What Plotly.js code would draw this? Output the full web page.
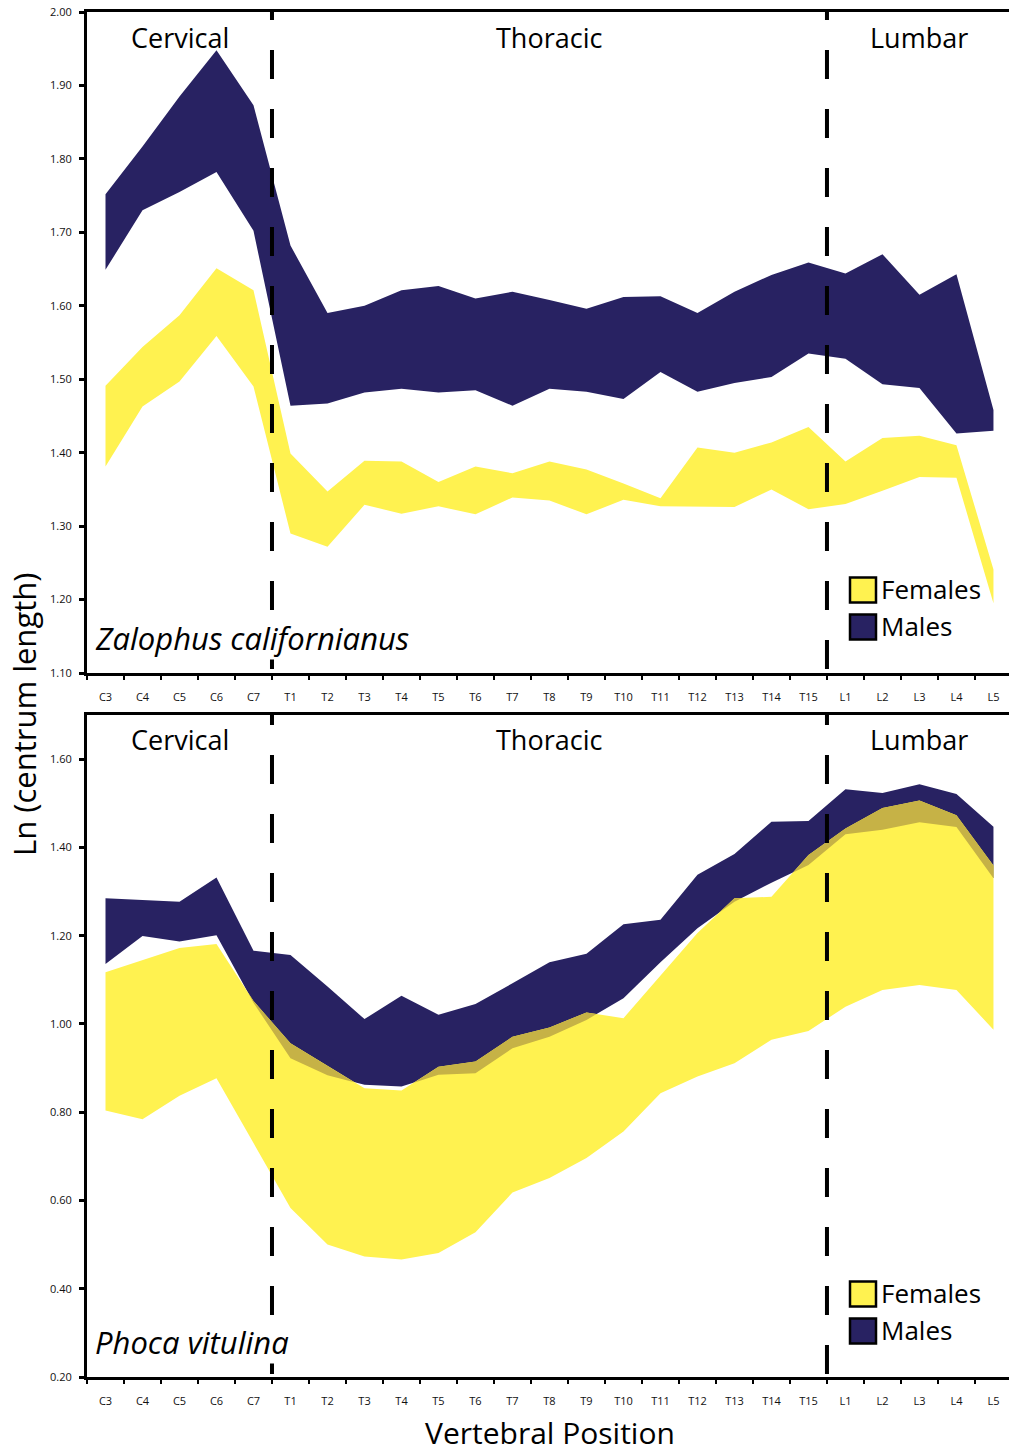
<!DOCTYPE html>
<html>
<head>
<meta charset="utf-8">
<script src="https://cdn.plot.ly/plotly-3.0.1.min.js"></script>
<style>html,body{margin:0;padding:0;background:#fff;}#chart{width:1009px;height:1454px;}</style>
</head>
<body>
<div id="chart"></div>
<script>
// ---------- DATA ----------
const vertebrae = ['C3','C4','C5','C6','C7','T1','T2','T3','T4','T5','T6','T7','T8','T9','T10','T11','T12','T13','T14','T15','L1','L2','L3','L4','L5'];
const sectionNames = {C: 'Cervical', T: 'Thoracic', L: 'Lumbar'};

// Zalophus californianus (top panel)
const zalMaleUpper   = [1.752,1.817,1.885,1.948,1.873,1.682,1.590,1.600,1.621,1.627,1.610,1.619,1.608,1.596,1.612,1.613,1.590,1.619,1.642,1.659,1.644,1.670,1.615,1.643,1.458];
const zalMaleLower   = [1.649,1.730,1.755,1.782,1.702,1.464,1.467,1.482,1.487,1.482,1.485,1.464,1.487,1.483,1.473,1.510,1.483,1.495,1.503,1.535,1.528,1.493,1.488,1.426,1.430];
const zalFemaleUpper = [1.491,1.544,1.587,1.651,1.621,1.399,1.347,1.389,1.388,1.360,1.381,1.372,1.388,1.377,1.358,1.338,1.407,1.400,1.414,1.435,1.388,1.420,1.423,1.410,1.241];
const zalFemaleLower = [1.381,1.463,1.497,1.559,1.490,1.290,1.272,1.329,1.317,1.327,1.316,1.339,1.335,1.316,1.336,1.327,1.327,1.326,1.350,1.323,1.330,1.348,1.367,1.366,1.195];

// Phoca vitulina (bottom panel)
const phoMaleUpper   = [1.285,1.281,1.277,1.332,1.166,1.156,1.085,1.011,1.064,1.021,1.045,1.092,1.140,1.159,1.226,1.236,1.338,1.385,1.458,1.460,1.532,1.523,1.543,1.521,1.447];
const phoMaleLower   = [1.136,1.199,1.187,1.201,1.048,0.922,0.884,0.862,0.858,0.885,0.888,0.945,0.971,1.009,1.058,1.140,1.217,1.277,1.320,1.360,1.430,1.440,1.457,1.446,1.330];
const phoFemaleUpper = [1.117,1.145,1.172,1.181,1.052,0.956,0.905,0.854,0.849,0.903,0.915,0.971,0.992,1.026,1.013,1.110,1.206,1.285,1.288,1.383,1.443,1.489,1.506,1.473,1.359];
const phoFemaleLower = [0.804,0.784,0.837,0.877,0.730,0.583,0.500,0.473,0.466,0.481,0.528,0.618,0.651,0.696,0.756,0.843,0.881,0.911,0.964,0.984,1.039,1.077,1.088,1.077,0.987];

const panels = [
  {species: 'Zalophus californianus', mU: zalMaleUpper, mL: zalMaleLower, fU: zalFemaleUpper, fL: zalFemaleLower,
   yRange: [1.10, 2.00], dtick: 0.1, dashPhasePx: 21},
  {species: 'Phoca vitulina', mU: phoMaleUpper, mL: phoMaleLower, fU: phoFemaleUpper, fL: phoFemaleLower,
   yRange: [0.20, 1.70], dtick: 0.2, dashPhasePx: 19}
];

// ---------- STYLE ----------
const NAVY = '#282262', YELLOW = '#FFF250', OLIVE = '#C6B246';
const FONT = '"Open Sans", "Noto Sans", sans-serif';
const W = 1009, H = 1454;
const M = {l: 87, r: 0, t: 12, b: 77};
const plotH = H - M.t - M.b;           // 1365
const panelPx = [[12, 673], [715, 1377]]; // top/bottom pixel rows of each panel

const idx = vertebrae.map((_, i) => i);
const boundaries = [-0.5].concat(idx.map(i => i + 0.5));
// section boundaries and centers derived from label prefixes
const sectionKeys = vertebrae.map(v => v[0]);
const sectionBreaks = [];
for (let i = 1; i < sectionKeys.length; i++) if (sectionKeys[i] !== sectionKeys[i-1]) sectionBreaks.push(i - 0.5);
const sections = [];
sectionKeys.forEach((k, i) => {
  const s = sections.find(o => o.k === k);
  if (s) s.last = i; else sections.push({k, first: i, last: i});
});

function band(x, upper, lower, color, xa, ya) {
  return {type: 'scatter', mode: 'lines', x: x.concat(x.slice().reverse()),
    y: upper.concat(lower.slice().reverse()), fill: 'toself', fillcolor: color,
    line: {width: 0, color: color}, hoverinfo: 'skip', showlegend: false, xaxis: xa, yaxis: ya};
}

// overlap polygons where female upper rises above male lower
function overlapTraces(fU, mL, xa, ya) {
  const out = [];
  let cur = null;
  const d = fU.map((v, i) => v - mL[i]);
  for (let i = 0; i < d.length; i++) {
    if (d[i] > 0) {
      if (!cur) {
        cur = {x: [], top: [], bot: []};
        if (i > 0) {
          const t = d[i-1] / (d[i-1] - d[i]);
          const yc = fU[i-1] + t * (fU[i] - fU[i-1]);
          cur.x.push(i - 1 + t); cur.top.push(yc); cur.bot.push(yc);
        }
      }
      cur.x.push(i); cur.top.push(fU[i]); cur.bot.push(mL[i]);
    } else if (cur) {
      const t = d[i-1] / (d[i-1] - d[i]);
      const yc = fU[i-1] + t * (fU[i] - fU[i-1]);
      cur.x.push(i - 1 + t); cur.top.push(yc); cur.bot.push(yc);
      out.push(band(cur.x, cur.top, cur.bot, OLIVE, xa, ya));
      cur = null;
    }
  }
  if (cur) out.push(band(cur.x, cur.top, cur.bot, OLIVE, xa, ya));
  return out;
}

const traces = [];
const layout = {
  width: W, height: H, margin: M, paper_bgcolor: '#fff', plot_bgcolor: '#fff',
  showlegend: false, font: {family: FONT, color: '#000'},
  annotations: [], shapes: []
};

panels.forEach((p, k) => {
  const xa = k === 0 ? 'x' : 'x2', ya = k === 0 ? 'y' : 'y2';
  const xName = k === 0 ? 'xaxis' : 'xaxis2', yName = k === 0 ? 'yaxis' : 'yaxis2';
  const [pTop, pBot] = panelPx[k];
  const domain = [(H - M.b - pBot) / plotH, (H - M.b - pTop) / plotH];
  const pxPerUnit = (pBot - pTop) / (p.yRange[1] - p.yRange[0]);

  traces.push(band(idx, p.mU, p.mL, NAVY, xa, ya));
  traces.push(band(idx, p.fU, p.fL, YELLOW, xa, ya));
  overlapTraces(p.fU, p.mL, xa, ya).forEach(t => traces.push(t));

  sectionBreaks.forEach(b => traces.push({
    type: 'scatter', mode: 'lines', x: [b, b],
    y: [p.yRange[1] + p.dashPhasePx / pxPerUnit, p.yRange[0]],
    line: {color: '#000', width: 4, dash: '29px,30px'}, hoverinfo: 'skip', showlegend: false,
    xaxis: xa, yaxis: ya, cliponaxis: true
  }));

  layout[xName] = {
    domain: [0, 1], anchor: ya, range: [-0.5, 24.42], tickmode: 'array', tickvals: idx, ticktext: vertebrae,
    ticks: '', showline: true, linewidth: 3, linecolor: '#000', mirror: true,
    showgrid: false, zeroline: false, tickfont: {size: 11, color: '#111', family: FONT},
    ticklabelstandoff: 12,
    minor: {tickmode: 'array', tickvals: boundaries, ticks: 'outside', ticklen: 4, tickwidth: 2, tickcolor: '#000', showgrid: false}
  };
  layout[yName] = {
    domain: domain, anchor: xa, range: p.yRange, tick0: p.yRange[0], dtick: p.dtick, tickformat: '.2f',
    ticks: 'outside', ticklen: 5, tickwidth: 3, tickcolor: '#000',
    showline: true, linewidth: 3, linecolor: '#000', showgrid: false, zeroline: false,
    tickfont: {size: 11, color: '#111', family: FONT}, ticklabelstandoff: 5
  };

  const yDom = py => (pBot - py) / (pBot - pTop);

  sections.forEach(s => layout.annotations.push({
    xref: xa, yref: ya + ' domain', x: (s.first + s.last) / 2, y: yDom(pTop + 25),
    text: sectionNames[s.k], showarrow: false, xanchor: 'center', yanchor: 'middle',
    font: {family: FONT, size: 27, color: '#000'}
  }));

  layout.annotations.push({
    xref: xa + ' domain', yref: ya + ' domain', x: (94 - M.l) / (W - M.l), y: yDom(pBot - 35),
    text: '<i>' + p.species + '</i>', showarrow: false, xanchor: 'left', yanchor: 'middle',
    bgcolor: '#fff', borderpad: 0,
    font: {family: FONT, size: 31, color: '#000'}
  });

  // legend (boxes + labels)
  const legendItems = [['Females', YELLOW, 96], ['Males', NAVY, 59]];
  legendItems.forEach(([name, col, upPx]) => {
    const cy = pBot - upPx + 13;
    layout.shapes.push({type: 'rect', xref: xa + ' domain', yref: ya + ' domain',
      x0: (850 - M.l) / (W - M.l), x1: (876 - M.l) / (W - M.l),
      y0: yDom(cy + 12.5), y1: yDom(cy - 12.5), fillcolor: col, line: {color: '#000', width: 2.5}});
    layout.annotations.push({xref: xa + ' domain', yref: ya + ' domain',
      x: (879 - M.l) / (W - M.l), y: yDom(cy - 1), text: name, showarrow: false,
      xanchor: 'left', yanchor: 'middle', font: {family: FONT, size: 26, color: '#000'}});
  });
});

// shared axis titles
layout.annotations.push({
  xref: 'paper', yref: 'paper', x: (24 - M.l) / (W - M.l), y: (H - M.b - 715) / plotH,
  text: 'Ln (centrum length)', textangle: -90, showarrow: false, xanchor: 'center', yanchor: 'middle',
  font: {family: FONT, size: 31, color: '#000'}
});
layout.annotations.push({
  xref: 'paper', yref: 'paper', x: (550 - M.l) / (W - M.l), y: (H - M.b - 1454) / plotH,
  text: 'Vertebral Position', showarrow: false, xanchor: 'center', yanchor: 'bottom', borderpad: 0,
  font: {family: FONT, size: 30, color: '#000'}
});

Plotly.newPlot('chart', traces, layout, {staticPlot: true, displayModeBar: false});
</script>
</body>
</html>
